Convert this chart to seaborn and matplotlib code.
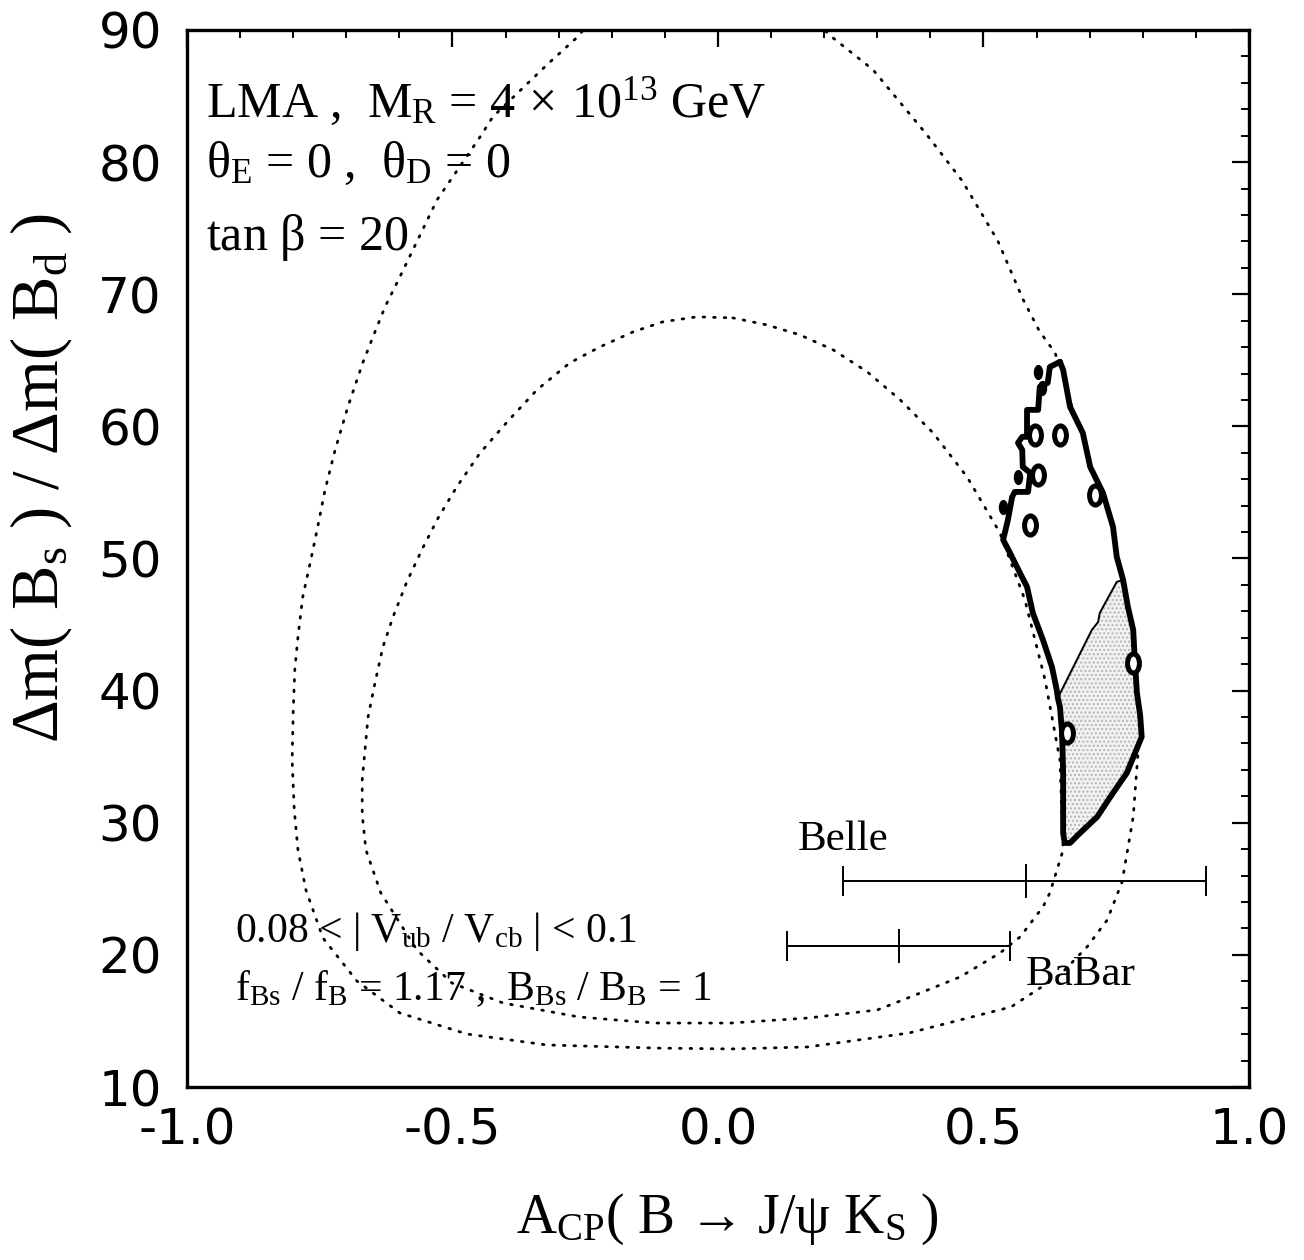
import matplotlib
matplotlib.use("Agg")
import numpy as np
import pandas as pd
import seaborn as sns
import matplotlib.pyplot as plt
from matplotlib.path import Path
from matplotlib.markers import MarkerStyle
from matplotlib.transforms import Affine2D
from matplotlib.ticker import MultipleLocator

# ---- outer dotted contour (leaves the frame above 90) ----
outer_x = [-0.245, -0.260, -0.322, -0.424, -0.448, -0.529, -0.599, -0.627, -0.646, -0.669,
           -0.697, -0.721, -0.740, -0.755, -0.768, -0.782, -0.791, -0.797, -0.800, -0.802,
           -0.798, -0.791, -0.776, -0.744, -0.680, -0.599, -0.473, -0.322, -0.119, 0.024,
           0.169, 0.360, 0.552, 0.644, 0.695, 0.733, 0.761, 0.782, 0.791, 0.789,
           0.772, 0.738, 0.691, 0.654, 0.635, 0.605, 0.574, 0.527, 0.460, 0.392,
           0.292, 0.207, 0.190]
outer_y = [90.6, 89.64, 87.37, 83.43, 81.91, 77.15, 71.32, 69.05, 67.15, 64.81,
           61.48, 58.22, 55.19, 52.16, 49.67, 47.09, 44.07, 41.57, 38.31, 34.75,
           30.97, 27.94, 24.91, 21.28, 18.02, 15.60, 14.01, 13.18, 12.95, 12.88,
           13.03, 14.09, 16.06, 18.48, 20.60, 22.64, 25.52, 30.44, 35.28, 39.30,
           43.84, 49.89, 58.22, 63.14, 65.56, 67.23, 69.65, 74.04, 78.58, 82.14,
           86.99, 89.71, 90.60]

# ---- inner dotted contour (closed) ----
inner_x = [0.028, 0.092, 0.154, 0.217, 0.281, 0.343, 0.405, 0.469, 0.531, 0.578,
           0.616, 0.644, 0.650, 0.625, 0.612, 0.569, 0.531, 0.456, 0.362, 0.300,
           0.169, 0.024, -0.119, -0.262, -0.405, -0.501, -0.567, -0.635, -0.663, -0.670,
           -0.670, -0.659, -0.646, -0.631, -0.612, -0.586, -0.556, -0.527, -0.492, -0.448,
           -0.397, -0.341, -0.279, -0.222, -0.160, -0.104, -0.040, 0.028]
inner_y = [68.21, 67.68, 66.93, 65.79, 64.13, 62.01, 59.51, 56.18, 51.94, 46.87,
           40.81, 34.75, 27.94, 24.69, 23.63, 21.36, 20.14, 18.33, 16.81, 15.83,
           15.22, 14.84, 14.84, 15.30, 16.36, 17.87, 20.37, 24.69, 27.94, 30.60,
           33.24, 38.01, 40.58, 43.31, 45.58, 48.23, 50.80, 53.07, 55.42, 57.99,
           60.34, 62.76, 64.81, 66.02, 67.15, 67.91, 68.29, 68.21]

# ---- allowed region (thick outline) ----
region_x = [0.644, 0.650, 0.663, 0.687, 0.701, 0.725, 0.744, 0.751, 0.763, 0.772,
            0.782, 0.785, 0.789, 0.795, 0.798, 0.770, 0.744, 0.714, 0.682, 0.663,
            0.653, 0.650, 0.650, 0.648, 0.644, 0.640, 0.638, 0.629, 0.612, 0.593,
            0.582, 0.563, 0.550, 0.537, 0.546, 0.554, 0.559, 0.584, 0.588, 0.574,
            0.573, 0.565, 0.573, 0.582, 0.582, 0.603, 0.606, 0.621, 0.625, 0.644]
region_y = [64.88, 64.28, 61.48, 59.51, 56.93, 54.97, 52.39, 50.12, 48.38, 46.34,
            44.59, 42.32, 39.83, 38.16, 36.50, 33.77, 32.26, 30.44, 29.23, 28.47,
            28.47, 29.23, 33.77, 36.80, 38.77, 39.45, 40.05, 41.79, 43.84, 45.88,
            47.85, 49.36, 50.42, 51.41, 52.92, 54.66, 55.04, 55.04, 56.48, 56.93,
            58.22, 58.75, 59.21, 59.21, 61.25, 61.25, 62.99, 63.29, 64.50, 64.88]

# ---- thin dividing line inside the region ----
split_x = [0.640, 0.704, 0.716, 0.719, 0.751, 0.763]
split_y = [39.45, 44.59, 45.20, 45.88, 48.23, 48.38]

# small holes and specks inside the region
hole_x = [0.597, 0.644, 0.603, 0.588, 0.710, 0.782, 0.657]
hole_y = [59.36, 59.36, 56.33, 52.54, 54.81, 42.10, 36.80]
dot_x = [0.603, 0.610, 0.565, 0.537]
dot_y = [64.13, 62.92, 56.18, 53.91]

# ---- experimental measurements ----
exp_names = ["Belle", "BaBar"]
exp_center = [0.58, 0.34]
exp_err_lo = [0.345, 0.21]
exp_err_hi = [0.340, 0.21]
exp_level = [25.6, 20.7]

# ---- style ----
sns.set_theme(style="white")
plt.rcParams["font.family"] = ["Liberation Serif", "DejaVu Serif"]
plt.rcParams["mathtext.fontset"] = "custom"
plt.rcParams["mathtext.rm"] = "Liberation Serif"
plt.rcParams["mathtext.it"] = "Liberation Serif"
plt.rcParams["mathtext.default"] = "rm"
plt.rcParams["mathtext.fallback"] = "stix"
plt.rcParams["hatch.linewidth"] = 1.0
for key in ["text.color", "axes.labelcolor", "xtick.color", "ytick.color", "axes.edgecolor"]:
    plt.rcParams[key] = "black"

fig = plt.figure(figsize=(13.04, 12.6), dpi=100)
ax = fig.add_axes([0.1434, 0.1373, 0.8144, 0.8389])
ax.set_facecolor("white")

dotted = dict(color="black", lw=2.0, linestyle=(0, (0.6, 3.2)),
              dash_capstyle="round", sort=False, estimator=None, ax=ax, legend=False)
sns.lineplot(x=outer_x, y=outer_y, zorder=2, **dotted)
sns.lineplot(x=inner_x, y=inner_y, zorder=2, **dotted)

# region: white body, stippled lower part, dividing line, thick outline
ax.fill(region_x, region_y, facecolor="white", edgecolor="none", zorder=3)
i_top = region_x.index(split_x[-1])
i_bot = region_x.index(split_x[0])
shade_x = split_x + region_x[i_top + 1:i_bot]
shade_y = split_y + region_y[i_top + 1:i_bot]
ax.fill(shade_x, shade_y, facecolor="#f2f2f2", edgecolor="#b4b4b4",
        hatch="....", lw=0, zorder=3.1)
sns.lineplot(x=split_x, y=split_y, sort=False, estimator=None, color="black",
             lw=1.4, ax=ax, zorder=3.2, legend=False)
sns.lineplot(x=region_x, y=region_y, sort=False, estimator=None, color="black",
             lw=4.2, ax=ax, zorder=4, legend=False,
             solid_joinstyle="round", solid_capstyle="round")

oval = MarkerStyle(Path.unit_circle().transformed(Affine2D().scale(0.62, 1.0)))
ax.scatter(hole_x, hole_y, marker=oval, s=190, facecolor="white",
           edgecolor="black", linewidths=3.6, zorder=5)
ax.scatter(dot_x, dot_y, marker=oval, s=120, facecolor="black",
           edgecolor="black", linewidths=0, zorder=5)

# Belle / BaBar intervals with central marks
for c, lo, hi, lev in zip(exp_center, exp_err_lo, exp_err_hi, exp_level):
    ax.errorbar([c], [lev], xerr=[[lo], [hi]], fmt="none", ecolor="black",
                elinewidth=1.4, capsize=11, capthick=1.4, zorder=6)
    ax.plot([c], [lev], marker="|", markersize=25, mew=1.4, color="black", zorder=6)

ax.text(exp_center[0] - exp_err_lo[0] - 0.085, exp_level[0] + 2.35, exp_names[0],
        fontsize=31, va="baseline", ha="left")
ax.text(exp_center[1] + exp_err_hi[1] + 0.03, exp_level[1] - 3.0, exp_names[1],
        fontsize=31, va="baseline", ha="left")

# parameter annotations
ax.text(0.018, 0.918, r"LMA ,  M$_{\rm R}$ = 4$\,\times\,$10$^{13}$ GeV",
        transform=ax.transAxes, fontsize=36, va="baseline")
ax.text(0.018, 0.861, r"$\theta_{\rm E}$ = 0 ,  $\theta_{\rm D}$ = 0",
        transform=ax.transAxes, fontsize=36, va="baseline")
ax.text(0.018, 0.792, r"tan $\beta$ = 20",
        transform=ax.transAxes, fontsize=36, va="baseline")
ax.text(0.045, 0.137, r"0.08 < | V$_{\rm ub}$ / V$_{\rm cb}$ | < 0.1",
        transform=ax.transAxes, fontsize=30, va="baseline")
ax.text(0.045, 0.082, r"f$_{\rm Bs}$ / f$_{\rm B}$ = 1.17 ,  B$_{\rm Bs}$ / B$_{\rm B}$ = 1",
        transform=ax.transAxes, fontsize=30, va="baseline")

# axes
ax.set_xlim(-1.0, 1.0)
ax.set_ylim(10, 90)
ax.xaxis.set_major_locator(MultipleLocator(0.5))
ax.xaxis.set_minor_locator(MultipleLocator(0.1))
ax.yaxis.set_major_locator(MultipleLocator(10))
ax.yaxis.set_minor_locator(MultipleLocator(2))
ax.set_xticklabels([f"{v:.1f}" for v in ax.get_xticks()])
ax.tick_params(which="both", direction="in", top=True, right=True, color="black")
ax.tick_params(which="major", length=12, width=1.6, labelsize=36)
ax.tick_params(axis="x", which="major", pad=14)
ax.tick_params(axis="y", which="major", pad=18)
ax.tick_params(which="minor", length=6, width=1.4)
for lab in ax.get_xticklabels() + ax.get_yticklabels():
    lab.set_fontfamily(["DejaVu Sans"])
for sp in ax.spines.values():
    sp.set_visible(True)
    sp.set_color("black")
    sp.set_linewidth(2.4)

ax.set_xlabel("A$_{\\rm CP}$( B \u2192 J/\u03c8 K$_{\\rm S}$ )", fontsize=40)
ax.set_ylabel(r"$\Delta$m( B$_{\rm s}$ ) / $\Delta$m( B$_{\rm d}$ )", fontsize=48)
ax.xaxis.set_label_coords(0.509, -0.099)
ax.yaxis.set_label_coords(-0.106, 0.576)

fig.savefig("out.png", dpi=100, facecolor="white")
